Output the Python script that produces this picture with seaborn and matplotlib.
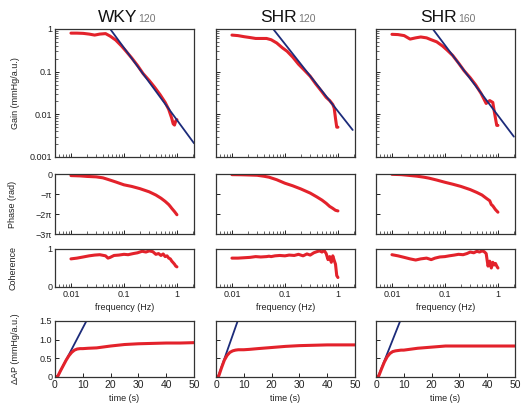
import numpy as np
import pandas as pd
import matplotlib
matplotlib.use("Agg")
import matplotlib.pyplot as plt
import seaborn as sns

# Data
strains = ["WKY", "SHR", "SHR"]
pressures = ["120", "120", "160"]

# Gain (mmHg/a.u.) vs frequency (Hz)
gain_freq = [0.01, 0.013, 0.017, 0.022, 0.028, 0.035, 0.045, 0.055, 0.07, 0.09,
             0.11, 0.14, 0.18, 0.23, 0.3, 0.38, 0.48, 0.6, 0.7, 0.8, 0.85, 0.9, 0.95, 1.0]
gain_wky120 = [0.80, 0.80, 0.79, 0.76, 0.72, 0.76, 0.78, 0.68, 0.55, 0.40,
               0.30, 0.21, 0.14, 0.09, 0.062, 0.043, 0.029, 0.019, 0.013, 0.008, 0.006, 0.0056, 0.007, 0.0075]
gain_shr120 = [0.72, 0.70, 0.66, 0.63, 0.60, 0.60, 0.60, 0.56, 0.47, 0.36,
               0.30, 0.22, 0.15, 0.11, 0.078, 0.052, 0.036, 0.025, 0.021, 0.017, 0.014, 0.008, 0.005, 0.005]
gain_shr160 = [0.75, 0.74, 0.70, 0.58, 0.62, 0.65, 0.62, 0.56, 0.50, 0.40,
               0.32, 0.24, 0.16, 0.105, 0.072, 0.049, 0.031, 0.018, 0.021, 0.019, 0.012, 0.008, 0.0055, 0.0055]

# blue fitted slope lines (endpoints)
fit_freq_wky120 = [0.055, 2.1]
fit_gain_wky120 = [1.0, 0.0021]
fit_freq_shr120 = [0.06, 1.9]
fit_gain_shr120 = [1.0, 0.0043]
fit_freq_shr160 = [0.059, 2.0]
fit_gain_shr160 = [1.0, 0.003]

# Phase (rad)
phase_freq = [0.01, 0.015, 0.02, 0.03, 0.04, 0.05, 0.07, 0.1, 0.14, 0.2,
              0.3, 0.4, 0.5, 0.6, 0.7, 0.75, 0.8, 0.9, 1.0]
phase_wky120 = [-0.25, -0.3, -0.38, -0.45, -0.6, -0.85, -1.25, -1.7, -1.95, -2.3,
                -2.8, -3.3, -3.8, -4.3, -4.8, -5.1, -5.4, -5.9, -6.4]
phase_shr120 = [-0.1, -0.12, -0.15, -0.2, -0.35, -0.5, -0.9, -1.45, -1.85, -2.35,
                -3.0, -3.6, -4.1, -4.6, -5.1, -5.25, -5.4, -5.7, -5.8]
phase_shr160 = [-0.05, -0.1, -0.2, -0.35, -0.5, -0.65, -0.95, -1.3, -1.6, -1.95,
                -2.45, -2.9, -3.3, -3.8, -4.2, -4.8, -5.0, -5.6, -6.0]

# Coherence
coh_freq = [0.01, 0.013, 0.017, 0.022, 0.028, 0.035, 0.045, 0.05, 0.055, 0.065, 0.08,
            0.1, 0.12, 0.15, 0.18, 0.22, 0.26, 0.3, 0.35, 0.4, 0.45, 0.5, 0.55,
            0.6, 0.65, 0.7, 0.75, 0.8, 0.85, 0.9, 0.95, 1.0]
coh_wky120 = [0.74, 0.76, 0.79, 0.82, 0.84, 0.85, 0.82, 0.76, 0.78, 0.83, 0.84,
              0.86, 0.85, 0.88, 0.90, 0.94, 0.92, 0.95, 0.93, 0.86, 0.88, 0.83, 0.87,
              0.80, 0.82, 0.76, 0.74, 0.68, 0.64, 0.60, 0.55, 0.53]
coh_shr120 = [0.76, 0.76, 0.77, 0.78, 0.80, 0.79, 0.80, 0.81, 0.80, 0.82, 0.83,
              0.82, 0.84, 0.83, 0.86, 0.82, 0.87, 0.84, 0.90, 0.93, 0.95, 0.92, 0.96,
              0.88, 0.72, 0.80, 0.65, 0.82, 0.70, 0.60, 0.30, 0.25]
coh_shr160 = [0.85, 0.82, 0.78, 0.74, 0.71, 0.74, 0.76, 0.74, 0.72, 0.76, 0.79,
              0.80, 0.82, 0.84, 0.86, 0.85, 0.88, 0.92, 0.90, 0.94, 0.92, 0.95, 0.93,
              0.88, 0.55, 0.68, 0.50, 0.65, 0.58, 0.62, 0.55, 0.50]

# Delta AP (mmHg/a.u.) step response vs time (s)
time_s = [0, 1, 2, 3, 4, 5, 6, 7, 8, 9, 10, 12, 15, 20, 25, 30, 35, 40, 45, 50]
dap_wky120 = [0, 0.02, 0.17, 0.31, 0.45, 0.57, 0.66, 0.72, 0.75, 0.76, 0.76, 0.77, 0.78,
              0.83, 0.87, 0.89, 0.90, 0.91, 0.91, 0.92]
dap_shr120 = [0, 0.03, 0.25, 0.45, 0.58, 0.66, 0.70, 0.72, 0.73, 0.73, 0.73, 0.74, 0.76,
              0.79, 0.82, 0.84, 0.85, 0.86, 0.86, 0.86]
dap_shr160 = [0, 0.03, 0.22, 0.40, 0.54, 0.63, 0.68, 0.70, 0.71, 0.72, 0.72, 0.74, 0.77,
              0.80, 0.83, 0.83, 0.83, 0.83, 0.83, 0.83]
fit_time_wky120 = [0.8, 11.3]
fit_time_shr120 = [0.7, 7.8]
fit_time_shr160 = [0.7, 8.7]
fit_dap = [0.0, 1.5]

gains = [gain_wky120, gain_shr120, gain_shr160]
fit_freqs = [fit_freq_wky120, fit_freq_shr120, fit_freq_shr160]
fit_gains = [fit_gain_wky120, fit_gain_shr120, fit_gain_shr160]
phases = [phase_wky120, phase_shr120, phase_shr160]
cohs = [coh_wky120, coh_shr120, coh_shr160]
daps = [dap_wky120, dap_shr120, dap_shr160]
fit_times = [fit_time_wky120, fit_time_shr120, fit_time_shr160]

sns.set_style("ticks")
plt.rcParams['font.family'] = ['Liberation Sans', 'DejaVu Sans']
plt.rcParams['xtick.direction'] = 'in'
plt.rcParams['ytick.direction'] = 'in'

RED = '#e3222b'
BLUE = '#1c2b7a'
TXT = '#222222'

W, H = 531, 412
fig = plt.figure(figsize=(5.31, 4.12), dpi=100)

col_left = [55, 216, 376]
col_w = 139
rows = {'gain': (29, 157), 'phase': (174, 234), 'coh': (249, 287), 'dap': (321, 377)}


def make_ax(left, top, bottom):
    return fig.add_axes([left / W, 1 - bottom / H, col_w / W, (bottom - top) / H])


def style(ax):
    for sp in ax.spines.values():
        sp.set_linewidth(0.9)
        sp.set_color('#333333')
    ax.tick_params(which='major', length=3, width=0.7, labelsize=6.5, colors=TXT, pad=2)
    ax.tick_params(which='minor', length=2, width=0.5)


for i in range(3):
    left = col_left[i]

    # gain
    ax = make_ax(left, *rows['gain'])
    sns.lineplot(x=gain_freq, y=gains[i], ax=ax, color=RED, lw=2.2, sort=False, estimator=None)
    sns.lineplot(x=fit_freqs[i], y=fit_gains[i], ax=ax, color=BLUE, lw=1.3, sort=False, estimator=None)
    ax.set_xscale('log')
    ax.set_yscale('log')
    ax.set_xlim(0.005, 2.1)
    ax.set_ylim(0.001, 1)
    ax.set_yticks([0.001, 0.01, 0.1, 1])
    style(ax)
    if i == 0:
        ax.set_yticklabels(['0.001', '0.01', '0.1', '1'])
        ax.set_ylabel('Gain (mmHg/a.u.)', fontsize=6.5, color=TXT)
        ax.yaxis.set_label_coords(-0.25, 0.5)
    else:
        ax.set_yticklabels([])
    ax.tick_params(axis='x', which='both', labelbottom=False)

    # title with small grey subscript
    t = ax.text(0.45, 1 + 11 / 128, strains[i], transform=ax.transAxes,
                ha='center', va='center', fontsize=12.5, color='#111111')
    ax.annotate(pressures[i], xy=(1, 0.08), xycoords=t,
                xytext=(0.8, 0), textcoords='offset points',
                fontsize=7.5, color='#777777', va='bottom', ha='left',
                annotation_clip=False)

    # phase
    ax = make_ax(left, *rows['phase'])
    sns.lineplot(x=phase_freq, y=phases[i], ax=ax, color=RED, lw=2.2, sort=False, estimator=None)
    ax.set_xscale('log')
    ax.set_xlim(0.005, 2.1)
    ax.set_ylim(-3 * np.pi, 0)
    ax.set_yticks([-3 * np.pi, -2 * np.pi, -np.pi, 0])
    style(ax)
    ax.tick_params(axis='x', which='both', labelbottom=False)
    if i == 0:
        ax.set_yticklabels(['\u22123\u03c0', '\u22122\u03c0', '\u2212\u03c0', '0'])
        ax.set_ylabel('Phase (rad)', fontsize=6.5, color=TXT)
        ax.yaxis.set_label_coords(-0.27, 0.5)
    else:
        ax.set_yticklabels([])

    # coherence
    ax = make_ax(left, *rows['coh'])
    sns.lineplot(x=coh_freq, y=cohs[i], ax=ax, color=RED, lw=2.2, sort=False, estimator=None)
    ax.set_xscale('log')
    ax.set_xlim(0.005, 2.1)
    ax.set_ylim(0, 1)
    ax.set_yticks([0, 1])
    ax.set_xticks([0.01, 0.1, 1])
    ax.set_xticklabels(['0.01', '0.1', '1'])
    style(ax)
    ax.set_xlabel('frequency (Hz)', fontsize=6.5, color=TXT, labelpad=3)
    if i == 0:
        ax.set_yticklabels(['0', '1'])
        ax.set_ylabel('Coherence', fontsize=6.5, color=TXT)
        ax.yaxis.set_label_coords(-0.27, 0.5)
    else:
        ax.set_yticklabels([])

    # delta AP
    ax = make_ax(left, *rows['dap'])
    sns.lineplot(x=fit_times[i], y=fit_dap, ax=ax, color=BLUE, lw=1.3, sort=False, estimator=None)
    sns.lineplot(x=time_s, y=daps[i], ax=ax, color=RED, lw=2.2, sort=False, estimator=None)
    ax.set_xlim(0, 50)
    ax.set_ylim(0, 1.5)
    ax.set_xticks([0, 10, 20, 30, 40, 50])
    ax.set_yticks([0, 0.5, 1.0, 1.5])
    style(ax)
    ax.tick_params(axis='x', labelsize=7.5)
    ax.set_xlabel('time (s)', fontsize=6.5, color=TXT, labelpad=3)
    if i == 0:
        ax.set_yticklabels(['0', '0.5', '1.0', '1.5'])
        ax.set_ylabel('\u0394AP (mmHg/a.u.)', fontsize=6.5, color=TXT)
        ax.yaxis.set_label_coords(-0.25, 0.5)
    else:
        ax.set_yticklabels([])

fig.savefig('out.png', dpi=100)
